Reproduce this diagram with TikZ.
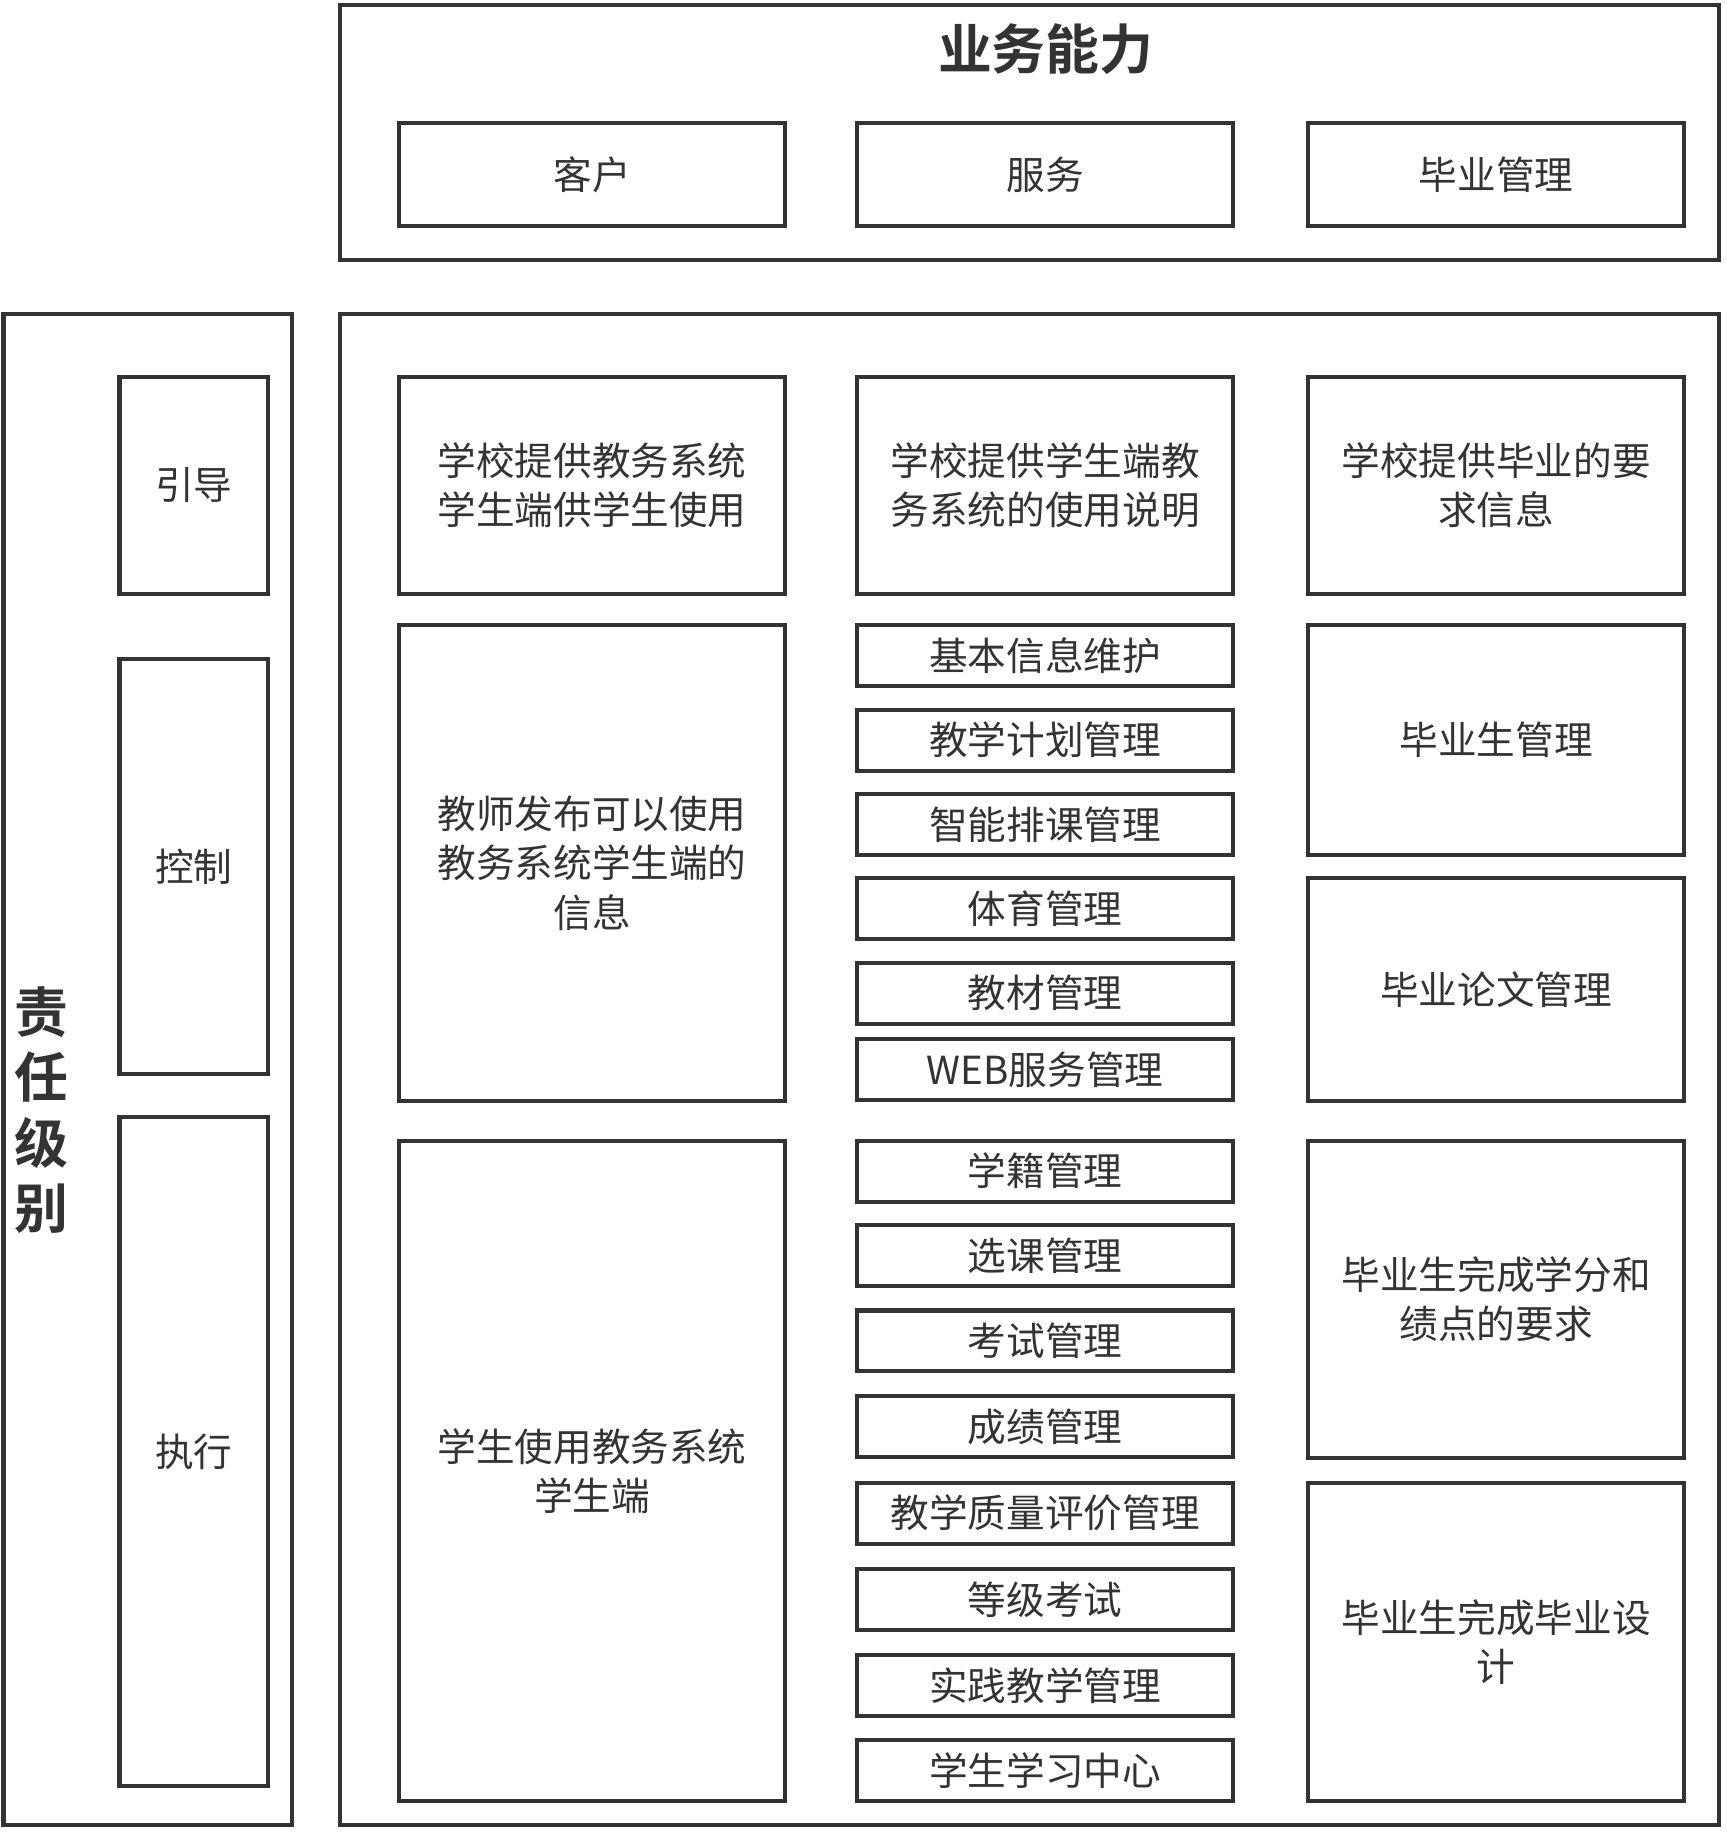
\documentclass[tikz,border=0pt]{standalone}
\usepackage{fontspec}
\setmainfont{Noto Sans CJK SC}[BoldFont={Noto Sans CJK SC Bold}]
\definecolor{ink}{HTML}{333333}
\tikzset{box/.style={draw=ink,line width=3.5pt,inner sep=0pt,align=center,text=ink,font=\fontsize{33}{42}\selectfont}}
\newcommand\bx[6]{\node[box,minimum width={(#3-#1)*1pt},minimum height={(#4-#2)*1pt}] (#5) at ({(#1+#3)/2},{-(#2+#4)/2}) {#6};}
\begin{document}
\begin{tikzpicture}[x=1pt,y=1pt]
\useasboundingbox[fill=white] (0,0) rectangle (1474,-1566);
% top
\bx{290}{4}{1468}{222}{top}{}
\node[text=ink,font=\fontsize{46}{52}\selectfont\bfseries] (title) at (893,-42) {业务能力};
\bx{341}{105}{670}{193}{c1}{客户}
\bx{732}{105}{1053}{193}{c2}{服务}
\bx{1117}{105}{1438}{193}{c3}{毕业管理}
% left
\bx{3}{268}{249}{1558}{left}{}
\node[text=ink,font=\fontsize{46}{56}\selectfont\bfseries,align=center] (zr) at (35,-948) {责\\任\\级\\别};
\bx{102}{322}{229}{507}{l1}{引导}
\bx{102}{563}{229}{917}{l2}{控制}
\bx{102}{954}{229}{1525}{l3}{执行}
% main
\bx{290}{268}{1468}{1558}{main}{}
\bx{341}{322}{670}{507}{a1}{学校提供教务系统\\学生端供学生使用}
\bx{341}{534}{670}{940}{a2}{教师发布可以使用\\教务系统学生端的\\信息}
\bx{341}{974}{670}{1538}{a3}{学生使用教务系统\\学生端}
\bx{732}{322}{1053}{507}{b0}{学校提供学生端教\\务系统的使用说明}
\bx{732}{534}{1053}{586}{b1}{基本信息维护}
\bx{732}{606}{1053}{658}{b2}{教学计划管理}
\bx{732}{678}{1053}{730}{b3}{智能排课管理}
\bx{732}{750}{1053}{802}{b4}{体育管理}
\bx{732}{822}{1053}{874}{b5}{教材管理}
\bx{732}{887}{1053}{939}{b6}{WEB服务管理}
\bx{732}{974}{1053}{1026}{b7}{学籍管理}
\bx{732}{1046}{1053}{1098}{b8}{选课管理}
\bx{732}{1119}{1053}{1171}{b9}{考试管理}
\bx{732}{1192}{1053}{1244}{b10}{成绩管理}
\bx{732}{1266}{1053}{1318}{b11}{教学质量评价管理}
\bx{732}{1340}{1053}{1392}{b12}{等级考试}
\bx{732}{1413}{1053}{1465}{b13}{实践教学管理}
\bx{732}{1486}{1053}{1538}{b14}{学生学习中心}
\bx{1117}{322}{1438}{507}{d1}{学校提供毕业的要\\求信息}
\bx{1117}{534}{1438}{730}{d2}{毕业生管理}
\bx{1117}{750}{1438}{940}{d3}{毕业论文管理}
\bx{1117}{974}{1438}{1245}{d4}{毕业生完成学分和\\绩点的要求}
\bx{1117}{1266}{1438}{1538}{d5}{毕业生完成毕业设\\计}
\end{tikzpicture}
\end{document}
